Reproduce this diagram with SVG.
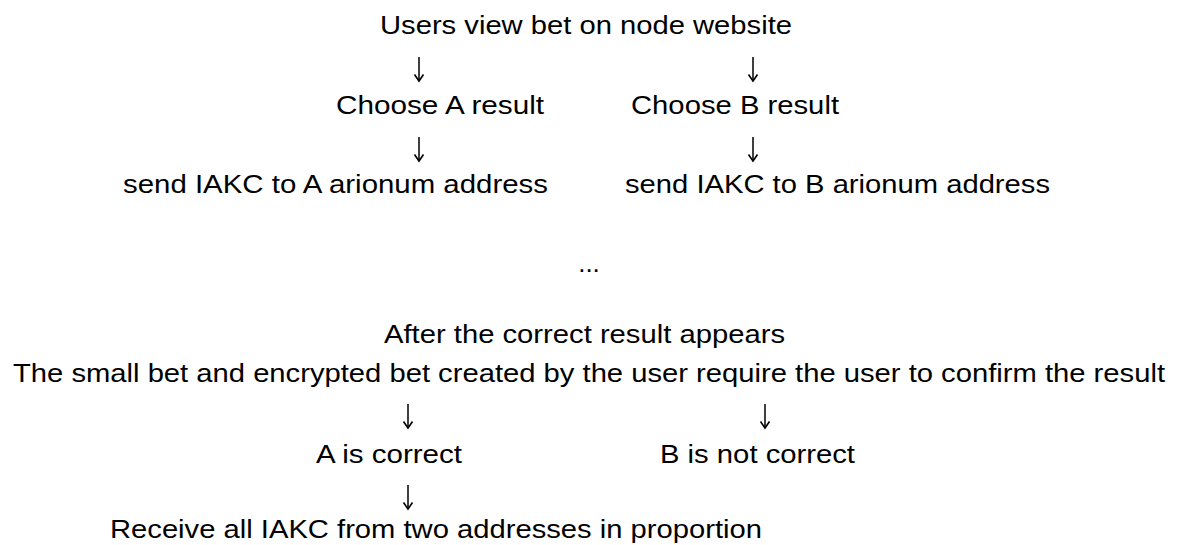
<svg xmlns="http://www.w3.org/2000/svg" width="1178" height="545" viewBox="0 0 1178 545">
<style>
text{font-family:"Liberation Sans",Arial,sans-serif;font-size:26px;fill:#000}
.mid{text-anchor:middle}
.con{stroke:#000;stroke-width:1.5;fill:none;marker-end:url(#ah)}
</style>
<defs>
<marker id="ah" markerUnits="userSpaceOnUse" markerWidth="12" markerHeight="12" viewBox="-8 -6 10 12" refX="0" refY="0" orient="auto">
<path d="M-6.5,-4.5 L0,0 L-6.5,4.5" fill="none" stroke="#000" stroke-width="1.6"/>
</marker>
</defs>
<rect width="1178" height="545" fill="#fff"/>
<g id="n-view"><text x="380" y="34" textLength="412" lengthAdjust="spacingAndGlyphs">Users view bet on node website</text></g>
<g id="n-chooseA"><text x="336" y="114" textLength="208" lengthAdjust="spacingAndGlyphs">Choose A result</text></g>
<g id="n-chooseB"><text x="631" y="114" textLength="208" lengthAdjust="spacingAndGlyphs">Choose B result</text></g>
<g id="n-sendA"><text x="123" y="193" textLength="425" lengthAdjust="spacingAndGlyphs">send IAKC to A arionum address</text></g>
<g id="n-sendB"><text x="625" y="193" textLength="425" lengthAdjust="spacingAndGlyphs">send IAKC to B arionum address</text></g>
<g id="n-dots"><text x="589" y="272" class="mid">...</text></g>
<g id="n-after"><text x="384" y="343" textLength="401" lengthAdjust="spacingAndGlyphs">After the correct result appears</text></g>
<g id="n-confirm"><text x="13" y="382" textLength="1152" lengthAdjust="spacingAndGlyphs">The small bet and encrypted bet created by the user require the user to confirm the result</text></g>
<g id="n-acorrect"><text x="316" y="463" textLength="146" lengthAdjust="spacingAndGlyphs">A is correct</text></g>
<g id="n-bnot"><text x="660" y="463" textLength="195" lengthAdjust="spacingAndGlyphs">B is not correct</text></g>
<g id="n-receive"><text x="110" y="538" textLength="652" lengthAdjust="spacingAndGlyphs">Receive all IAKC from two addresses in proportion</text></g>
<g id="connectors">
<line class="con" x1="419" y1="57" x2="419" y2="81"/>
<line class="con" x1="753" y1="57" x2="753" y2="81"/>
<line class="con" x1="419" y1="137" x2="419" y2="161"/>
<line class="con" x1="753" y1="137" x2="753" y2="161"/>
<line class="con" x1="408" y1="404" x2="408" y2="428"/>
<line class="con" x1="765" y1="404" x2="765" y2="428"/>
<line class="con" x1="408" y1="485" x2="408" y2="509"/>
</g>
</svg>
